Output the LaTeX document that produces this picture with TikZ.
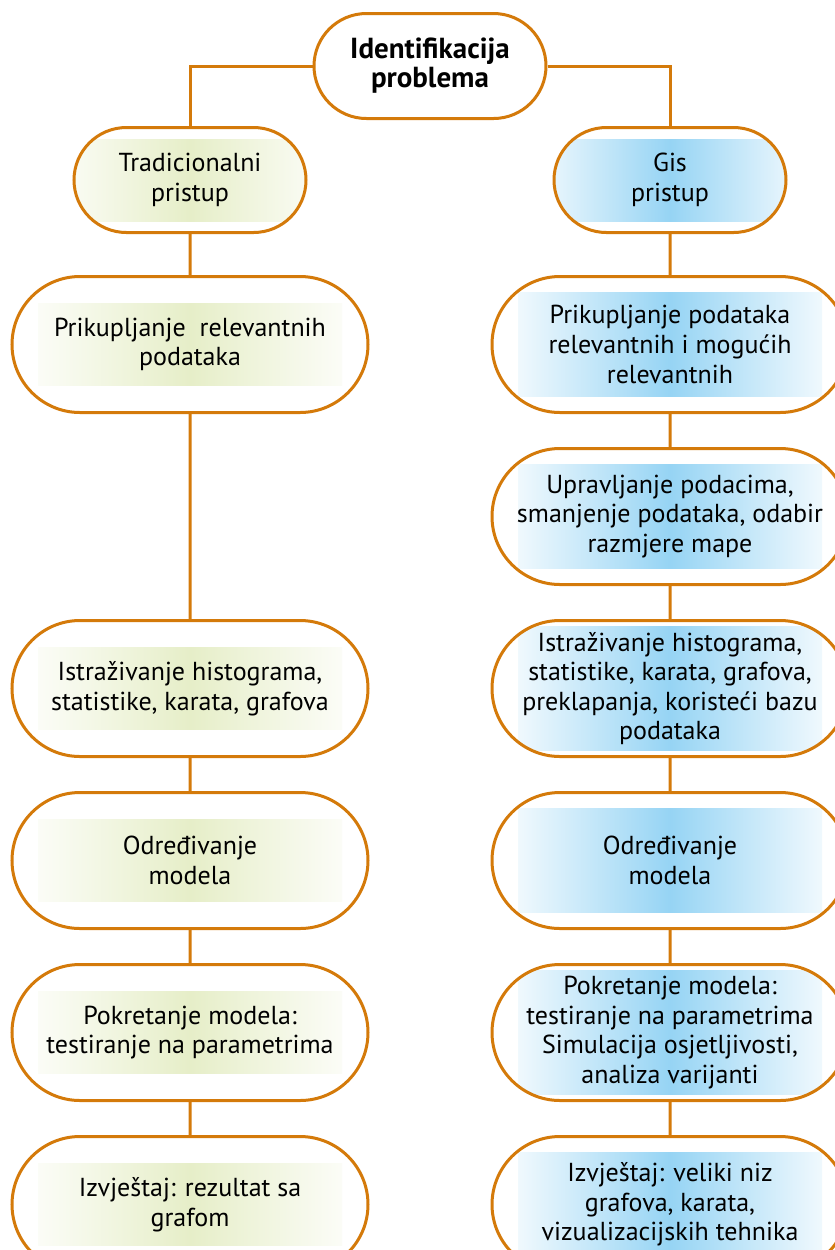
\documentclass[tikz,border=0pt]{standalone}
\usepackage{fontspec}
\setmainfont{PT Sans}
\usetikzlibrary{positioning,shapes.misc}

\definecolor{frame}{RGB}{212,122,10}
\definecolor{glowL}{RGB}{230,238,200}
\definecolor{glowR}{RGB}{150,212,244}

\begin{document}
\begin{tikzpicture}[x=0.5pt,y=-0.5pt,node distance=16.5pt,
    line/.style={draw=frame,line width=1.5pt},
    box/.style={rounded rectangle,draw=frame,line width=1.5pt,fill=white,
      align=center,inner sep=0pt,minimum width=178pt,minimum height=68pt,
      font=\fontsize{13pt}{14.8pt}\selectfont},
    small/.style={box,minimum width=116pt,minimum height=52.5pt},
    glow/.style 2 args={path picture={
      \shade[left color=white,right color=white,middle color=#1]
        ([xshift=-76pt,yshift=-#2]path picture bounding box.center) rectangle
        ([xshift=76pt,yshift=#2]path picture bounding box.center);}},
    lbox/.style={box,glow={glowL}{#1}},
    rbox/.style={box,glow={glowR}{#1}}]
    \useasboundingbox (0,0) rectangle (835,1250);

    % top
    \node[small,font=\fontsize{14.5pt}{14.5pt}\selectfont\bfseries] (t) at (430,66) {Identifikacija\\problema};
    \node[small,glow={glowL}{20.5pt}] (l0) at (190,180) {Tradicionalni\\pristup};
    \node[small,glow={glowR}{20.5pt}] (r0) at (670,180) {Gis\\pristup};

    % GIS pristup
    \node[rbox=26pt]   (r1) [below=20.5pt of r0] {Prikupljanje podataka\\relevantnih i mogućih\\relevantnih};
    \node[rbox=26pt]   (r2) [below=of r1]        {Upravljanje podacima,\\smanjenje podataka, odabir\\razmjere mape};
    \node[rbox=31pt]   (r3) [below=of r2]        {Istraživanje histograma,\\statistike, karata, grafova,\\preklapanja, koristeći bazu\\podataka};
    \node[rbox=26pt]   (r4) [below=of r3]        {Određivanje\\modela};
    \node[rbox=31pt]   (r5) [below=of r4]        {Pokretanje modela:\\testiranje na parametrima\\Simulacija osjetljivosti,\\analiza varijanti};
    \node[rbox=26pt]   (r6) [below=of r5]        {Izvještaj: veliki niz\\grafova, karata,\\vizualizacijskih tehnika};

    % tradicionalni pristup
    \node[lbox=20.5pt] (l1) [below=20.5pt of l0] {Prikupljanje~ relevantnih\\podataka};
    \node[lbox=20.5pt] (l3) at (l1 |- r3)        {Istraživanje histograma,\\statistike, karata, grafova};
    \node[lbox=20.5pt] (l4) [below=of l3]        {Određivanje\\modela};
    \node[lbox=20.5pt] (l5) [below=of l4]        {Pokretanje modela:\\testiranje na parametrima};
    \node[lbox=20.5pt] (l6) [below=of l5]        {Izvještaj: rezultat sa\\grafom};

    \draw[line] (t.west) -| (l0.north);
    \draw[line] (t.east) -| (r0.north);
    \path[line]
      (l0) edge (l1)
      (l1) edge (l3)
      (l3) edge (l4)
      (l4) edge (l5)
      (l5) edge (l6)
      (r0) edge (r1)
      (r1) edge (r2)
      (r2) edge (r3)
      (r3) edge (r4)
      (r4) edge (r5)
      (r5) edge (r6);
  \end{tikzpicture}
\end{document}
